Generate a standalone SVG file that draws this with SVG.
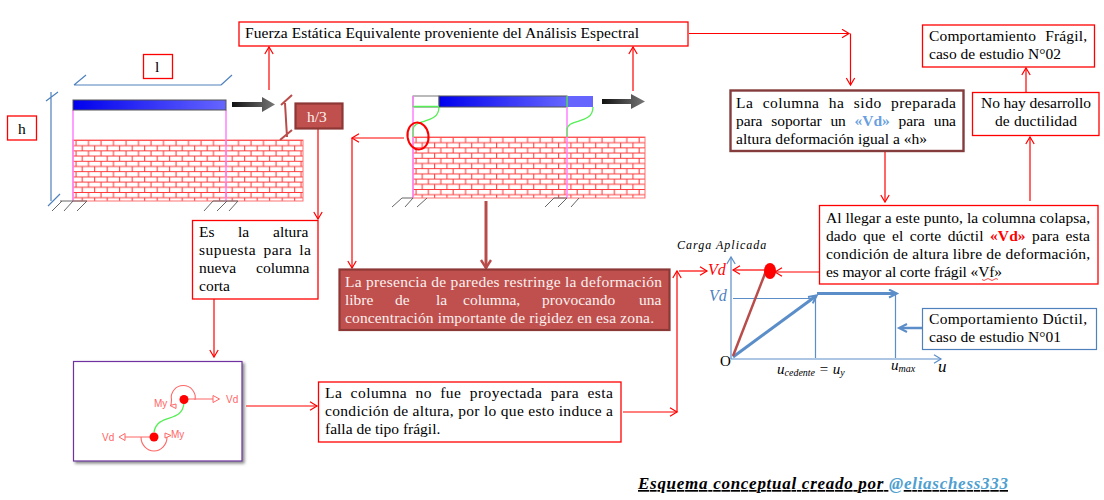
<svg xmlns="http://www.w3.org/2000/svg" width="1104" height="500" viewBox="0 0 1104 500">
<style>
text{font-family:"Liberation Serif",serif;font-size:15.5px;fill:#000}
.b{fill:#fff;stroke:#f00;stroke-width:1.3}
.br{fill:#c0504d;stroke:#8c3836;stroke-width:2.2}
.w{fill:#fbf0f0}
.c{fill:none;stroke:#f00;stroke-width:1.2}
.e{marker-end:url(#oa)}
.dim{fill:none;stroke:#4f81bd;stroke-width:1.2}
.ax{fill:none;stroke:#5b8ec9;stroke-width:1.2}
.thick{fill:none;stroke:#5b8ec9;stroke-width:3}
.hatch{fill:none;stroke:#666;stroke-width:1}
.mag{stroke:#ff80ff;stroke-width:1.5;fill:none}
.gr{stroke:#55ee55;stroke-width:1.3;fill:none}
.i{font-style:italic}
.ms{font-family:"Liberation Sans",sans-serif;font-size:10px;fill:#f66}
.tri{fill:#fff;stroke:#f66;stroke-width:1}
.ln{stroke:#f66;stroke-width:1.1;fill:none}
</style>
<defs>
<marker id="oa" markerUnits="userSpaceOnUse" markerWidth="12" markerHeight="12" refX="9" refY="5" orient="auto"><path d="M2,0.8 L9,5 L2,9.2" fill="none" stroke="#f00" stroke-width="1.2"/></marker>
<marker id="ob" markerUnits="userSpaceOnUse" markerWidth="12" markerHeight="12" refX="9" refY="5" orient="auto"><path d="M2,0.8 L9,5 L2,9.2" fill="none" stroke="#5b8ec9" stroke-width="1.2"/></marker>
<marker id="tb" markerUnits="userSpaceOnUse" markerWidth="12" markerHeight="12" refX="8" refY="5" orient="auto"><path d="M1,1 L9,5 L1,9" fill="none" stroke="#5b8ec9" stroke-width="2"/></marker>
<marker id="tr" markerUnits="userSpaceOnUse" markerWidth="14" markerHeight="14" refX="9" refY="6" orient="auto"><path d="M1,1 L9,6 L1,11" fill="none" stroke="#b84c4a" stroke-width="2.4"/></marker>
<pattern id="brick" patternUnits="userSpaceOnUse" x="73" y="140" width="12.5" height="10.4"><rect width="12.5" height="10.4" fill="#fff"/><path d="M0,0.5H12.5M0,5.7H12.5M3,0V5.2M9.2,5.2V10.4" fill="none" stroke="#f33" stroke-width="1"/></pattern>
<pattern id="brick2" patternUnits="userSpaceOnUse" x="413" y="137" width="12.4" height="10.4"><rect width="12.4" height="10.4" fill="#fff"/><path d="M0,0.5H12.4M0,5.7H12.4M3,0V5.2M9.2,5.2V10.4" fill="none" stroke="#f33" stroke-width="1"/></pattern>
<linearGradient id="bl"><stop offset="0" stop-color="#0000ee"/><stop offset="1" stop-color="#6666ff"/></linearGradient>
<linearGradient id="ag"><stop offset="0" stop-color="#111"/><stop offset="1" stop-color="#777"/></linearGradient>
<filter id="sh" x="-5%" y="-5%" width="115%" height="115%"><feDropShadow dx="2" dy="2" stdDeviation="1.5" flood-color="#888"/></filter>
</defs>

<g id="structure-left">
<rect x="73" y="140" width="230" height="61" fill="url(#brick)" stroke="#ff7070" stroke-width="1"/>
<path class="mag" d="M73,110V201M226,110V201"/>
<rect x="73" y="100" width="153" height="10" fill="url(#bl)" stroke="#555" stroke-width="1"/>
<path class="hatch" d="M60,201H87M52,211L62,201M64,211L73,201M77,211L87,201M213,201H238M204,211L213,201M217,211L227,201M229,211L238,201"/>
<path d="M232,102H262V97L275,104.500L262,112V107H232Z" fill="url(#ag)"/>
<path class="dim" d="M74,85H221M74,85L86,75M221,85L232,75M51,92V201M46,101L58,92M48,206L60,194"/>
<path d="M285,103L287,137M281,105L292,95M280,140L292,130" fill="none" stroke="#b84c4a" stroke-width="2"/>
</g>
<g id="structure-right">
<rect x="413" y="137" width="232" height="61" fill="url(#brick2)" stroke="#ff7070" stroke-width="1"/>
<rect x="413" y="96" width="26" height="11" fill="#fff" stroke="#777" stroke-width="1"/>
<rect x="439" y="96" width="128" height="11" fill="url(#bl)" stroke="#555" stroke-width="1"/>
<rect x="567" y="96" width="26" height="11" fill="#6666ff"/>
<path class="mag" d="M413,96V198M567,107V198"/>
<path class="gr" d="M413,106.500H439M439,107C439,125 413,118 413,130V137M593,107C593,125 567,118 567,130V137M567,96V107"/>
<ellipse cx="418" cy="136" rx="10.500" ry="13.500" fill="none" stroke="#f00" stroke-width="2" transform="rotate(-8 418 136)"/>
<path class="hatch" d="M402,198H413M392,207L402,198M405,207L413,198M417,207L427,198M554,198H567M545,207L554,198M558,207L567,198M571,207L579,198"/>
<path d="M602,99H631V94L645,101.500L631,109V104H602Z" fill="url(#ag)"/>
</g>

<g id="connectors">
<path class="c e" d="M269,90V47"/>
<path class="c e" d="M633,91V47"/>
<path class="c e" d="M318,129V219"/>
<path class="c e" d="M214,299V357"/>
<path class="c e" d="M246,406H317"/>
<path class="c e" d="M623,412H677"/>
<path class="c e" d="M677,412V271"/>
<path class="c e" d="M679,271H707"/>
<path class="c e" d="M404,138H352"/>
<path class="c e" d="M352,138V268"/>
<path d="M486,201V268" fill="none" stroke="#b84c4a" stroke-width="3" marker-end="url(#tr)"/>
<path class="c e" d="M689,33.500H849"/>
<path class="c e" d="M850.500,33.500V85"/>
<path class="c e" d="M885,151V202"/>
<path class="c e" d="M1030,201V137"/>
<path class="c e" d="M1026,92V68"/>
<path class="c e" d="M819,272H775"/>
<path class="c e" d="M765,270H733"/>
<path d="M927,328H900" fill="none" stroke="#5b8ec9" stroke-width="2.500" marker-end="url(#tb)"/>
</g>

<g id="node-fuerza"><rect class="b" x="239" y="22" width="449" height="24"/><text x="245" y="38" textLength="394" lengthAdjust="spacing">Fuerza Estática Equivalente proveniente del Análisis  Espectral</text></g>
<g id="node-l"><rect class="b" x="143.500" y="54.500" width="29" height="24"/><text x="155" y="72">l</text></g>
<g id="node-h"><rect class="b" x="7.500" y="116" width="29" height="24"/><text x="18" y="134">h</text></g>
<g id="node-h3"><rect class="br" x="295.500" y="103.500" width="47" height="25"/><text class="w" x="307" y="122">h/3</text></g>
<g id="node-altura"><rect class="b" x="192.500" y="220.500" width="125.500" height="78.500"/>
<text y="237" x="199">Es</text><text y="237" x="238">la</text><text y="237" x="273">altura</text>
<text y="255" x="199" textLength="112" word-spacing="3">supuesta para la</text>
<text y="273" x="199">nueva</text><text y="273" x="256">columna</text>
<text y="291" x="199">corta</text></g>
<g id="node-detail"><rect x="73.500" y="361.500" width="168.500" height="99.500" fill="#fff" stroke="#7030a0" stroke-width="1.200" filter="url(#sh)"/>
<path class="gr" d="M184,403C182,424 158,412 154,432"/>
<path class="ln" d="M184,399H213M154,437H123M195,400A12,12 0 1 0 171.500,400L171,405M141,437A13,14 0 0 0 167,437"/>
<circle cx="184" cy="399.500" r="4.500" fill="#f00"/><circle cx="154" cy="437" r="4.500" fill="#f00"/>
<path class="tri" d="M213,395.500L219.500,399L213,402.500ZM125,433.500L119,437L125,440.500ZM176,404L170,405.500L176,408.500ZM165,433L171,435.500L165,438Z"/>
<text class="ms" style="font-family:'Liberation Sans',sans-serif;font-size:10px;fill:#f66" x="226" y="403">Vd</text><text class="ms" style="font-family:'Liberation Sans',sans-serif;font-size:10px;fill:#f66" x="102" y="441">Vd</text><text style="font-family:'Liberation Sans',sans-serif;font-size:10px;fill:#f66" x="154" y="407">My</text><text style="font-family:'Liberation Sans',sans-serif;font-size:10px;fill:#f66" x="171" y="438">My</text></g>
<g id="node-proyectada"><rect class="b" x="318.500" y="382" width="302.500" height="60"/>
<text x="325" y="398" textLength="288" word-spacing="4">La columna no fue proyectada para esta</text>
<text x="325" y="416" textLength="288">condición  de altura, por lo que esto induce a</text>
<text x="325" y="434">falla de tipo frágil.</text></g>
<g id="node-presencia"><rect class="br" x="339.500" y="269.500" width="330" height="60.500"/>
<text class="w" x="345" y="287" textLength="317">La presencia de paredes restringe la deformación</text>
<text class="w" y="305" x="345">libre</text><text class="w" y="305" x="395">de</text><text class="w" y="305" x="436">la</text><text class="w" y="305" x="463">columna,</text><text class="w" y="305" x="542">provocando</text><text class="w" y="305" x="639">una</text>
<text class="w" x="345" y="323" textLength="309">concentración importante de rigidez en esa zona.</text></g>
<g id="node-columna"><rect x="730.500" y="90.500" width="233" height="60.500" fill="#fff" stroke="#843c3c" stroke-width="2.400"/>
<text y="108" x="736" textLength="220" word-spacing="5">La columna ha sido preparada</text>
<text y="126" x="736" textLength="220" word-spacing="5">para soportar un <tspan font-weight="bold" style="fill:#6a9fe0">«Vd»</tspan> para una</text>
<text y="144" x="736" textLength="191">altura deformación igual a «h»</text></g>
<g id="node-llegar"><rect class="b" x="819.500" y="205.500" width="278.500" height="78.500"/>
<text y="223" x="826" textLength="264">Al llegar a este punto, la columna colapsa,</text>
<text y="241" x="826" textLength="264" word-spacing="2.500">dado que el corte dúctil <tspan font-weight="bold" style="fill:#f00">«Vd»</tspan> para esta</text>
<text y="259" x="826" textLength="264">condición de altura libre de deformación,</text>
<text y="277" x="826" textLength="176">es mayor al corte frágil «Vf»</text>
<path d="M982,279.500q2,2 4,0t4,0t4,0t4,0" fill="none" stroke="#f00" stroke-width="0.700"/></g>
<g id="node-nohay"><rect class="b" x="972.500" y="92.500" width="126.500" height="43"/><text x="981" y="108" textLength="110">No hay desarrollo</text><text x="995" y="126" textLength="82">de ductilidad</text></g>
<g id="node-fragil"><rect class="b" x="922.500" y="25" width="172" height="42"/><text x="929" y="41" textLength="158" word-spacing="5">Comportamiento  Frágil,</text><text x="929" y="59" textLength="132">caso de estudio  N°02</text></g>
<g id="node-ductil"><rect x="922.500" y="308.500" width="174" height="41" fill="#fff" stroke="#4f81bd" stroke-width="1.200"/><text x="929" y="324" textLength="158">Comportamiento  Dúctil,</text><text x="929" y="342" textLength="132">caso de estudio  N°01</text></g>

<g id="chart">
<path class="ax" d="M731,359V257" marker-end="url(#ob)"/>
<path class="ax" d="M731,359H941" marker-end="url(#ob)"/>
<path class="ax" d="M733,298.500H815M815.500,298V358M895.500,293V358"/>
<path class="thick" d="M733,357L816,296" marker-end="url(#tb)"/>
<path class="thick" d="M817,293.500H896" marker-end="url(#tb)"/>
<path d="M733,356L766,271" fill="none" stroke="#b84c4a" stroke-width="2.500"/>
<ellipse cx="770" cy="271" rx="6" ry="8" fill="#f00"/>
<text class="i" x="677" y="249" style="font-size:12px;letter-spacing:1px">Carga Aplicada</text>
<text class="i" x="708" y="275" style="fill:#f00;font-size:16px">Vd</text>
<text class="i" x="709" y="301" style="fill:#4f81bd;font-size:16px">Vd</text>
<text x="720" y="366" style="font-family:'Liberation Serif',serif;font-size:15px">O</text>
<text class="i" x="777" y="374" style="font-size:15px">u<tspan style="font-size:10px" dy="2">cedente</tspan><tspan dy="-2"> = u</tspan><tspan style="font-size:10px" dy="2">y</tspan></text>
<text class="i" x="891" y="370" style="font-size:15px">u<tspan style="font-size:10px" dy="2">max</tspan></text>
<text class="i" x="938" y="372" style="font-size:17px">u</text>
</g>
<g id="credit"><text x="638" y="489" textLength="370" style="font-size:17px;font-weight:bold;font-style:italic;text-decoration:underline">Esquema  conceptual creado por <tspan style="fill:#4f9fd0">@eliaschess333</tspan></text></g>
</svg>
